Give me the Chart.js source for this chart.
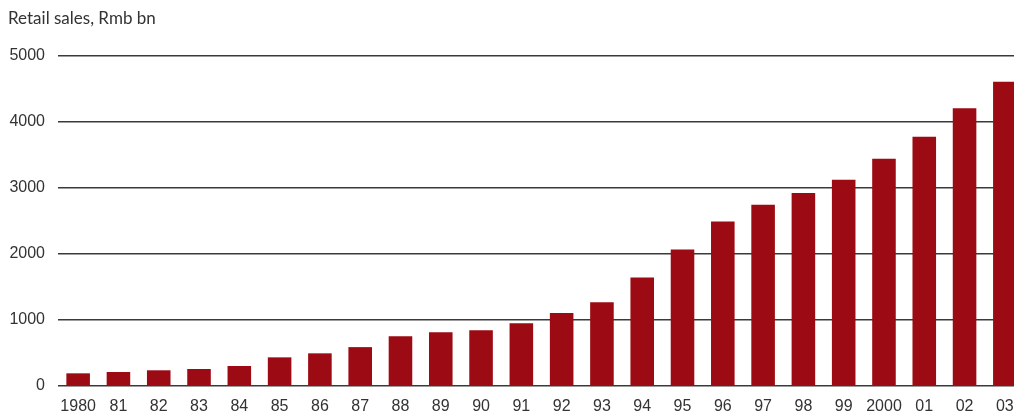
<!DOCTYPE html>
<html>
<head>
<meta charset="utf-8">
<script src="https://cdn.jsdelivr.net/npm/chart.js@4"></script>
<style>
  html, body { margin: 0; padding: 0; background: #fff; overflow: hidden; }
  #wrap { position: relative; width: 1026px; height: 418px; }
</style>
</head>
<body>
<div id="wrap"><canvas id="salesChart"></canvas></div>
<script>
// Retail sales, Rmb bn
const titleText = "Retail sales, Rmb bn";
const years = ["1980", "81", "82", "83", "84", "85", "86", "87", "88", "89", "90", "91",
  "92", "93", "94", "95", "96", "97", "98", "99", "2000", "01", "02", "03"];
const sales = [192, 212, 238, 258, 303, 434, 495, 589, 752, 813, 843, 950,
  1107, 1269, 1644, 2070, 2493, 2747, 2924, 3126, 3444, 3778, 4208, 4608];
const yTicks = [0, 1000, 2000, 3000, 4000, 5000];

// titre en haut à gauche
const titlePlugin = {
  id: "topTitle",
  afterDraw(chart) {
    const c = chart.ctx;
    c.save();
    c.font = "17px Lato";
    c.fillStyle = "#333";
    c.textBaseline = "alphabetic";
    c.textAlign = "left";
    c.fillText(titleText, 8, 24);
    c.restore();
  }
};

const ctx = document.getElementById("salesChart").getContext("2d");
new Chart(ctx, {
  type: "bar",
  data: {
    labels: years,
    datasets: [{
      label: "Retail sales",
      data: sales,
      backgroundColor: "#9c0b13",
      borderWidth: 0,
      barPercentage: 0.585,
      categoryPercentage: 1
    }]
  },
  options: {
    responsive: true,
    maintainAspectRatio: false,
    animation: false,
    layout: { padding: { top: 56, left: 8, right: 1, bottom: 0 } },
    plugins: {
      legend: { display: false },
      tooltip: { enabled: false }
    },
    scales: {
      x: {
        grid: { display: false, drawTicks: false },
        border: { display: false },
        ticks: {
          color: "#333",
          font: { family: "Liberation Sans", size: 16 },
          padding: 11,
          maxRotation: 0,
          autoSkip: false
        },
        afterFit(axis) { axis.height = 32; }
      },
      y: {
        min: 0,
        max: 5000,
        afterBuildTicks(axis) { axis.ticks = yTicks.map(v => ({ value: v })); },
        grid: { color: "#3a3a3a", lineWidth: 1.5, drawTicks: false },
        border: { display: false },
        ticks: {
          color: "#333",
          font: { family: "Liberation Sans", size: 16 },
          padding: 13,
          callback: v => String(v)
        },
        afterFit(axis) { axis.width = 50; }
      }
    }
  },
  plugins: [titlePlugin]
});
</script>
</body>
</html>
